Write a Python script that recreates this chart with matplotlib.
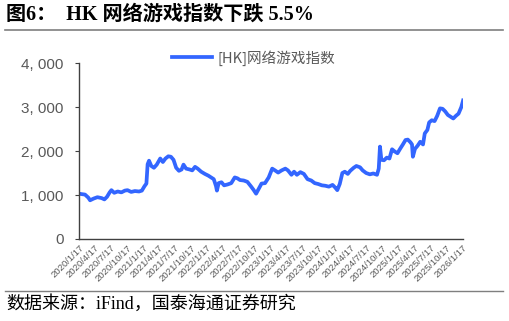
import matplotlib
matplotlib.use("Agg")
import matplotlib.pyplot as plt
import numpy as np
import pandas as pd

plt.rcParams['font.family'] = ['Noto Sans CJK SC', 'DejaVu Sans']

# values (approximate)
dates = ["2020-01-17", "2020-02-01", "2020-02-20", "2020-03-10", "2020-03-20", "2020-04-10",
         "2020-05-01", "2020-05-25", "2020-06-10", "2020-06-25", "2020-07-10", "2020-07-20",
         "2020-08-05", "2020-08-25", "2020-09-15", "2020-10-05", "2020-10-20", "2020-11-10",
         "2020-12-01", "2020-12-25", "2021-01-10", "2021-01-25", "2021-02-05", "2021-02-12",
         "2021-02-20", "2021-03-05", "2021-03-20", "2021-04-05", "2021-04-25", "2021-05-10",
         "2021-05-25", "2021-06-10", "2021-06-25", "2021-07-10", "2021-07-25", "2021-08-10",
         "2021-08-25", "2021-09-05", "2021-09-20", "2021-10-10", "2021-10-25", "2021-11-10",
         "2021-11-25", "2021-12-15", "2022-01-05", "2022-01-25", "2022-02-10", "2022-02-25",
         "2022-03-10", "2022-03-15", "2022-03-25", "2022-04-10", "2022-04-25", "2022-05-15",
         "2022-06-05", "2022-06-25", "2022-07-10", "2022-07-25", "2022-08-15", "2022-09-05",
         "2022-09-25", "2022-10-10", "2022-10-25", "2022-11-10", "2022-11-25", "2022-12-15",
         "2023-01-05", "2023-01-25", "2023-02-10", "2023-02-28", "2023-03-20", "2023-04-10",
         "2023-04-25", "2023-05-15", "2023-05-30", "2023-06-15", "2023-07-05", "2023-07-25",
         "2023-08-15", "2023-09-05", "2023-09-25", "2023-10-15", "2023-11-05", "2023-11-25",
         "2023-12-15", "2024-01-05", "2024-01-20", "2024-02-01", "2024-02-15", "2024-03-01",
         "2024-03-15", "2024-04-01", "2024-04-15", "2024-05-05", "2024-05-20", "2024-06-10",
         "2024-06-25", "2024-07-15", "2024-08-05", "2024-08-25", "2024-09-15", "2024-09-25",
         "2024-10-02", "2024-10-10", "2024-10-25", "2024-11-10", "2024-11-25", "2024-12-10",
         "2024-12-25", "2025-01-10", "2025-01-25", "2025-02-10", "2025-02-25", "2025-03-10",
         "2025-03-25", "2025-04-03", "2025-04-08", "2025-04-20", "2025-05-05", "2025-05-20",
         "2025-06-05", "2025-06-15", "2025-06-30", "2025-07-10", "2025-07-25", "2025-08-10",
         "2025-08-25", "2025-09-10", "2025-09-25", "2025-10-10", "2025-10-25", "2025-11-10",
         "2025-11-25", "2025-12-10", "2025-12-25", "2026-01-10", "2026-01-20"]
index_vals = [1030, 1020, 1010, 940, 880, 920,
              950, 930, 900, 960, 1060, 1110,
              1050, 1080, 1060, 1100, 1110, 1070,
              1090, 1080, 1100, 1200, 1260, 1700,
              1780, 1660, 1620, 1690, 1830, 1750,
              1830, 1880, 1870, 1800, 1620, 1550,
              1580, 1690, 1600, 1580, 1560, 1640,
              1600, 1530, 1480, 1440, 1400, 1360,
              1200, 1100, 1270, 1290, 1220, 1240,
              1270, 1400, 1380, 1340, 1330, 1300,
              1200, 1120, 1030, 1150, 1260, 1270,
              1400, 1600, 1560, 1510, 1560, 1600,
              1560, 1460, 1530, 1460, 1520, 1480,
              1360, 1330, 1270, 1250, 1220, 1210,
              1190, 1230, 1170, 1110, 1250, 1500,
              1530, 1480, 1550, 1620, 1660, 1630,
              1560, 1500, 1470, 1490, 1460, 1600,
              2100, 1800, 1790, 1850, 1830, 2040,
              1990, 1950, 2050, 2150, 2250, 2260,
              2200, 2150, 1870, 2050, 2120, 2210,
              2150, 2400, 2480, 2650, 2700, 2680,
              2800, 2970, 2960, 2900, 2820, 2780,
              2740, 2800, 2850, 3000, 3150]
tick_dates = pd.date_range("2020-01-01", "2026-01-01", freq="3MS") + pd.Timedelta(days=16)
y_ticks = [0, 1000, 2000, 3000, 4000]

x = pd.to_datetime(dates)
gray = "#595959"

fig = plt.figure(figsize=(5.10, 3.21), dpi=100)
ax = fig.add_axes([0.155, 0.2555, 0.753, 0.548])
ax.plot(x, index_vals, color="#3366FF", lw=2.7, label="[HK]网络游戏指数")

ax.set_xlim(x.min(), x.max())
ax.set_ylim(0, 4000)
ax.set_yticks(y_ticks)
ax.set_yticklabels([f"{v:,}".replace(",", ", ") for v in y_ticks], fontsize=11, color=gray,
                   family=["Liberation Sans", "DejaVu Sans"])
ax.set_xticks(tick_dates)
ax.set_xticklabels([f"{d.year}/{d.month}/{d.day}" for d in tick_dates], rotation=45,
                   ha="right", rotation_mode="anchor", fontsize=6.8, color=gray,
                   family=["Liberation Sans", "DejaVu Sans"])
for s in ["top", "right"]:
    ax.spines[s].set_visible(False)
for s in ["left", "bottom"]:
    ax.spines[s].set_color("#404040")
    ax.spines[s].set_linewidth(1.0)
ax.tick_params(axis="y", length=3, color="#404040", pad=8)
ax.tick_params(axis="x", length=0, pad=3)

leg = ax.legend(loc="upper center", bbox_to_anchor=(0.455, 1.15), frameon=False,
                fontsize=10.5, handlelength=2.7, handletextpad=0.4)
for t in leg.get_texts():
    t.set_color(gray)

fig.text(0.012, 0.953, "图6：  HK 网络游戏指数下跌 5.5%", fontsize=14.5, weight="bold",
         family=["Liberation Serif", "Noto Sans CJK SC"], va="center")
fig.add_artist(plt.Line2D([0.01, 0.987], [0.908, 0.908], color="#7f7f7f", lw=1.2))
fig.add_artist(plt.Line2D([0.01, 0.987], [0.094, 0.094], color="#7f7f7f", lw=1.0))
fig.text(0.012, 0.052, "数据来源：iFind，国泰海通证券研究", fontsize=13,
         family=["Liberation Serif", "Noto Sans CJK SC"], va="center")

fig.savefig("out.png", dpi=100)
